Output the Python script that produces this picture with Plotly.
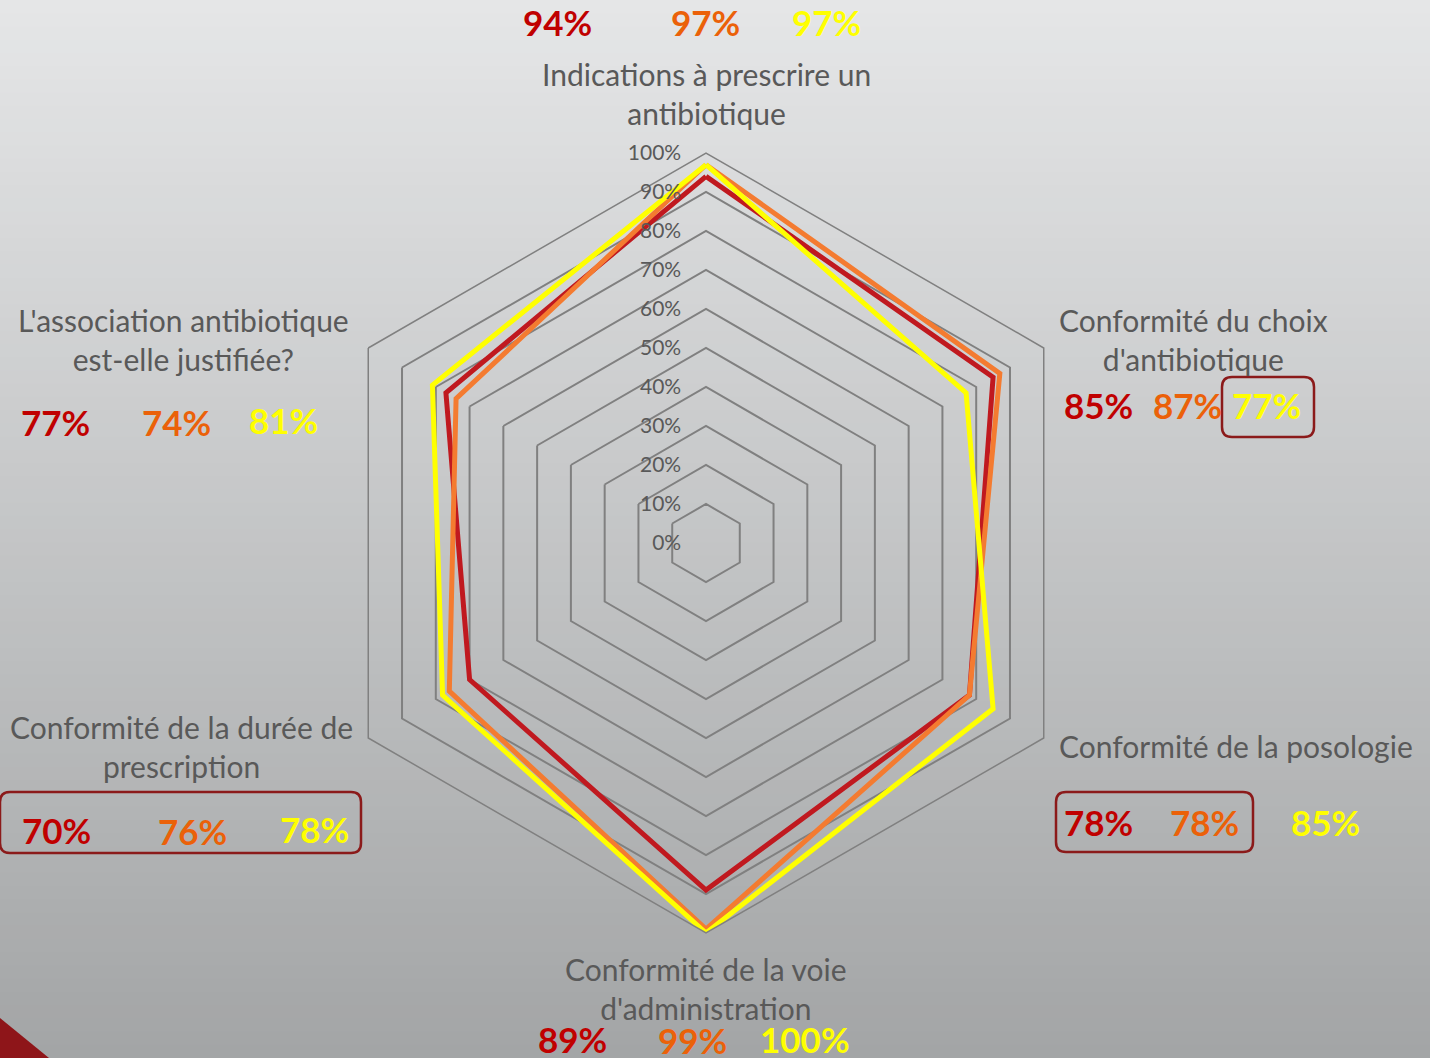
import plotly.graph_objects as go

W, H = 1430, 1058

categories = [
    "Indications à prescrire un antibiotique",
    "Conformité du choix d'antibiotique",
    "Conformité de la posologie",
    "Conformité de la voie d'administration",
    "Conformité de la durée de prescription",
    "L'association antibiotique est-elle justifiée?",
]
series_a = [94, 85, 78, 89, 70, 77]   # dark red
series_b = [97, 87, 78, 99, 76, 74]   # orange
series_c = [97, 77, 85, 100, 78, 81]  # yellow
radial_ticks = [0, 10, 20, 30, 40, 50, 60, 70, 80, 90, 100]

line_colors = ["#C0191F", "#F47B30", "#FFFF00"]
text_colors = ["#C00000", "#EB6109", "#FFFF00"]


def px(x):
    return x / W


def py(y):
    return 1 - y / H


fig = go.Figure()
for vals, col in zip([series_a, series_b, series_c], line_colors):
    fig.add_trace(go.Scatterpolar(
        r=[v / 100 for v in vals] + [vals[0] / 100],
        theta=categories + [categories[0]],
        mode="lines",
        line=dict(color=col, width=5),
        showlegend=False,
        hoverinfo="skip",
    ))

cx, cy, R = 706, 543, 390

shapes = []
# gradient background
n = 80
top = (229, 230, 231)
bot = (163, 165, 166)
for i in range(n):
    t = i / (n - 1)
    c = tuple(round(top[k] + (bot[k] - top[k]) * t) for k in range(3))
    shapes.append(dict(type="rect", xref="paper", yref="paper",
                       x0=0, x1=1, y0=1 - (i + 1) / n - 0.001, y1=1 - i / n,
                       fillcolor="rgb(%d,%d,%d)" % c, line=dict(width=0), layer="below"))
# red triangle bottom-left
shapes.append(dict(type="path", xref="paper", yref="paper",
                   path="M %f %f L %f %f L %f %f Z" % (px(0), py(1018), px(0), py(1058), px(49), py(1058)),
                   fillcolor="#8E1519", line=dict(width=0), layer="above"))


def rounded_box(x0, y0, x1, y1, r=10):
    p = ("M {a} {b} L {c} {b} Q {d} {b} {d} {e} L {d} {f} Q {d} {g} {c} {g} "
         "L {a} {g} Q {h} {g} {h} {f} L {h} {e} Q {h} {b} {a} {b} Z").format(
        a=px(x0 + r), b=py(y0), c=px(x1 - r), d=px(x1), e=py(y0 + r),
        f=py(y1 - r), g=py(y1), h=px(x0))
    return dict(type="path", xref="paper", yref="paper", path=p,
                line=dict(color="#8B1A1A", width=2.5), fillcolor="rgba(0,0,0,0)")


shapes.append(rounded_box(1222, 377, 1314, 437))
shapes.append(rounded_box(1056, 792, 1253, 852))
shapes.append(rounded_box(0, 792, 361, 853))

annotations = []
label_font = dict(family="Lato, Open Sans, sans-serif", size=30, color="#595959")
labels = [
    ("Indications à prescrire un<br>antibiotique", 706, 94),
    ("Conformité du choix<br>d'antibiotique", 1193, 339),
    ("Conformité de la posologie", 1236, 746),
    ("Conformité de la voie<br>d'administration", 706, 988),
    ("Conformité de la durée de<br>prescription", 182, 746),
    ("L'association antibiotique<br>est-elle justifiée?", 184, 339),
]
for txt, x, y in labels:
    annotations.append(dict(text=txt, x=px(x), y=py(y), xref="paper", yref="paper",
                            showarrow=False, font=label_font, align="center",
                            xanchor="center", yanchor="middle"))

value_pos = [
    [(557, 22), (705, 22), (826, 22)],
    [(1098, 405), (1187, 405), (1266, 405)],
    [(1098, 822), (1204, 822), (1325, 822)],
    [(572, 1039), (692, 1040), (805, 1039)],
    [(56, 830), (193, 831), (314, 829)],
    [(55, 422), (176, 422), (283, 420)],
]
all_series = [series_a, series_b, series_c]
for i in range(len(categories)):
    for s in range(3):
        x, y = value_pos[i][s]
        annotations.append(dict(text="%d%%" % all_series[s][i], x=px(x), y=py(y),
                                xref="paper", yref="paper", showarrow=False,
                                font=dict(family="Lato, sans-serif", size=35,
                                          color=text_colors[s], weight="bold"),
                                xanchor="center", yanchor="middle"))

fig.update_layout(
    width=W, height=H,
    margin=dict(l=0, r=0, t=0, b=0),
    paper_bgcolor="#d0d1d2",
    shapes=shapes,
    annotations=annotations,
    polar=dict(
        domain=dict(x=[px(cx - R), px(cx + R)], y=[py(cy + R), py(cy - R)]),
        bgcolor="rgba(0,0,0,0)",
        gridshape="linear",
        radialaxis=dict(
            range=[0, 1], tickvals=[t / 100 for t in radial_ticks],
            ticktext=["%d%%" % t for t in radial_ticks],
            angle=90, tickangle=90, side="counterclockwise",
            showline=False, ticks="outside", ticklen=17, tickcolor="rgba(0,0,0,0)",
            gridcolor="#808080", gridwidth=1.5,
            tickfont=dict(family="Lato, sans-serif", size=21, color="#595959"),
        ),
        angularaxis=dict(
            rotation=90, direction="clockwise", showgrid=False,
            showticklabels=False, ticks="", showline=True,
            linecolor="#808080", linewidth=1.5,
        ),
    ),
)

fig.write_html("out.html", config={"displayModeBar": False},
               post_script="document.body.style.margin='0';")
